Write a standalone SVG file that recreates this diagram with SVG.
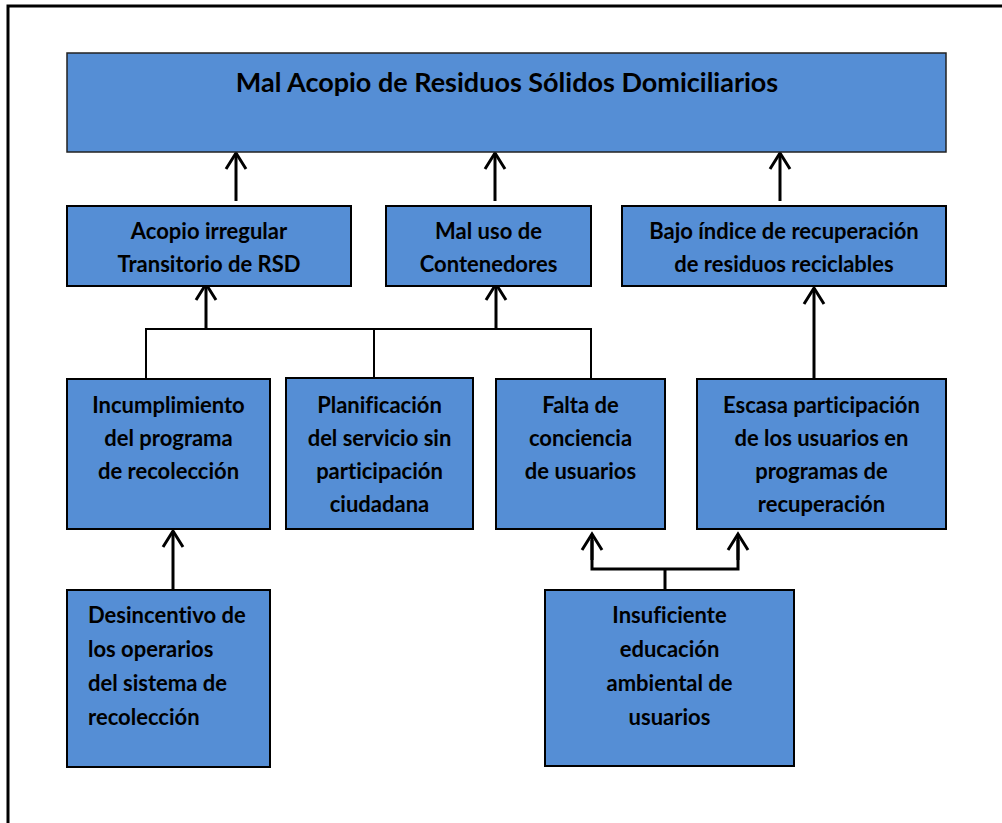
<svg xmlns="http://www.w3.org/2000/svg" width="1002" height="823" viewBox="0 0 1002 823">
<style>
.box{fill:#558ed5;stroke:#000;stroke-width:2}
.top{fill:#558ed5;stroke:#222;stroke-width:1.5}
.t{font-family:Lato,"Liberation Sans",sans-serif;font-weight:bold;font-size:22px;fill:#000;text-anchor:middle;font-variant-ligatures:none}
.tl{text-anchor:start}
.title{font-size:27px}
.c{fill:none;stroke:#000;stroke-width:2}
.a{fill:none;stroke:#000;stroke-width:3;marker-end:url(#arr)}
</style>
<defs>
<marker id="arr" markerUnits="userSpaceOnUse" markerWidth="24" markerHeight="26" viewBox="-2 -3 22 26" refX="16" refY="10" orient="auto">
<path d="M0,0 L16,10 L0,20" fill="none" stroke="#000" stroke-width="3"/>
</marker>
</defs>
<rect x="0" y="0" width="1002" height="823" fill="#fff"/>
<rect x="8" y="6" width="1010" height="840" fill="none" stroke="#000" stroke-width="3"/>

<g id="connectors">
<line class="a" x1="236" y1="201" x2="236" y2="153"/>
<line class="a" x1="495" y1="201" x2="495" y2="153"/>
<line class="a" x1="780" y1="201" x2="780" y2="153"/>
<polyline class="c" points="146,380 146,329 591,329 591,379"/>
<line class="c" x1="374" y1="329" x2="374" y2="379"/>
<line class="a" x1="206" y1="329" x2="206" y2="284"/>
<line class="a" x1="496" y1="329" x2="496" y2="284"/>
<line class="a" x1="814" y1="379" x2="814" y2="288"/>
<line class="a" x1="173" y1="590" x2="173" y2="531"/>
<polyline class="c" points="592,540 592,569 738,569 738,540" style="stroke-width:3"/>
<line class="c" x1="665" y1="569" x2="665" y2="590" style="stroke-width:3"/>
<line class="a" x1="592" y1="560" x2="592" y2="534"/>
<line class="a" x1="738" y1="560" x2="738" y2="534"/>
</g>

<g id="n-main">
<rect class="top" x="67" y="53" width="879" height="99"/>
<text class="t title" x="507" y="92">Mal Acopio de Residuos Sólidos Domiciliarios</text>
</g>
<g id="n-acopio">
<rect class="box" x="67" y="206" width="284" height="80"/>
<text class="t" x="209" y="239">Acopio irregular</text>
<text class="t" x="209" y="272">Transitorio de RSD</text>
</g>
<g id="n-maluso">
<rect class="box" x="386" y="206" width="205" height="80"/>
<text class="t" x="488.5" y="239">Mal uso de</text>
<text class="t" x="488.5" y="272">Contenedores</text>
</g>
<g id="n-bajo">
<rect class="box" x="622" y="206" width="324" height="80"/>
<text class="t" x="784" y="239">Bajo índice de recuperación</text>
<text class="t" x="784" y="272">de residuos reciclables</text>
</g>
<g id="n-incumplimiento">
<rect class="box" x="67" y="379" width="203" height="150"/>
<text class="t" x="168.5" y="413">Incumplimiento</text>
<text class="t" x="168.5" y="446">del programa</text>
<text class="t" x="168.5" y="479">de recolección</text>
</g>
<g id="n-planificacion">
<rect class="box" x="286" y="378" width="187" height="151"/>
<text class="t" x="379.5" y="413">Planificación</text>
<text class="t" x="379.5" y="446">del servicio sin</text>
<text class="t" x="379.5" y="479">participación</text>
<text class="t" x="379.5" y="512">ciudadana</text>
</g>
<g id="n-falta">
<rect class="box" x="496" y="379" width="169" height="150"/>
<text class="t" x="580.5" y="413">Falta de</text>
<text class="t" x="580.5" y="446">conciencia</text>
<text class="t" x="580.5" y="479">de usuarios</text>
</g>
<g id="n-escasa">
<rect class="box" x="697" y="379" width="249" height="150"/>
<text class="t" x="821.5" y="413">Escasa participación</text>
<text class="t" x="821.5" y="446">de los usuarios en</text>
<text class="t" x="821.5" y="479">programas de</text>
<text class="t" x="821.5" y="512">recuperación</text>
</g>
<g id="n-desincentivo">
<rect class="box" x="67" y="590" width="203" height="177"/>
<text class="t tl" x="88" y="623">Desincentivo de</text>
<text class="t tl" x="88" y="657">los operarios</text>
<text class="t tl" x="88" y="691">del sistema de</text>
<text class="t tl" x="88" y="725">recolección</text>
</g>
<g id="n-insuficiente">
<rect class="box" x="545" y="590" width="249" height="176"/>
<text class="t" x="669.5" y="623">Insuficiente</text>
<text class="t" x="669.5" y="657">educación</text>
<text class="t" x="669.5" y="691">ambiental de</text>
<text class="t" x="669.5" y="725">usuarios</text>
</g>
</svg>
